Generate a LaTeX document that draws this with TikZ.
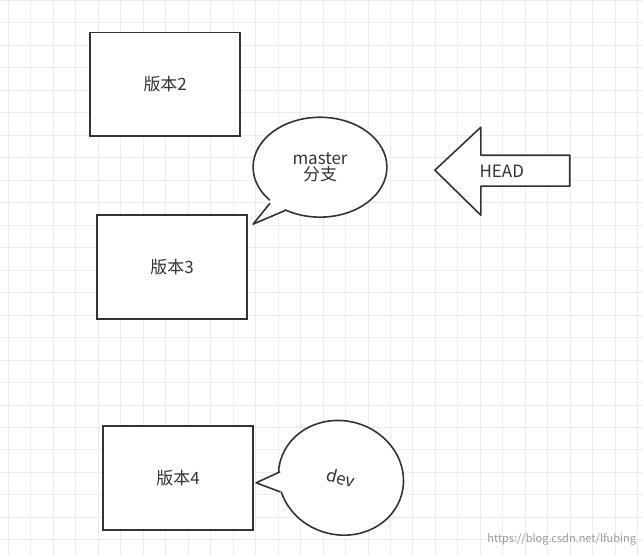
\documentclass[tikz,border=0pt]{standalone}
\usepackage{fontspec}
\setmainfont{Noto Sans CJK SC}
\usetikzlibrary{shapes.geometric}
\begin{document}
\begin{tikzpicture}[x=1pt,y=-1pt,
  box/.style={draw=black!80,line width=1.6pt,fill=white,minimum width=150pt,minimum height=104pt,font=\fontsize{17}{20}\selectfont,text=black!80},
  bub/.style={draw=black!80,line width=1.6pt,fill=white,ellipse,font=\fontsize{17}{20}\selectfont,text=black!80,align=center,inner sep=0pt}]
\fill[white] (0,0) rectangle (643,556);
\foreach \x in {8,30.5,...,643} \draw[black!7,line width=0.8pt] (\x,0) -- (\x,556);
\foreach \y in {0,22.5,...,556} \draw[black!7,line width=0.8pt] (0,\y) -- (643,\y);
\node[box] (v2) at (165,84) {版本2};
\node[box] (v3) at (172,267) {版本3};
\node[box] (v4) at (178,478) {版本4};
\node[bub,minimum width=134pt,minimum height=100pt] (m) at (320,167) {master\\[-4pt]分支};
\coordinate (mt) at (253,224);
\fill[white] (275,193) -- (mt) -- (294,205) -- cycle;
\draw[black!80,line width=1.6pt,line join=round] (270,203) -- (mt) -- (286,210);
\node[bub,minimum width=126pt,minimum height=114pt,rotate=-15] (d) at (341,478) {dev};
\coordinate (dt) at (256,483);
\fill[white] (288,468) -- (dt) -- (288,494) -- cycle;
\draw[black!80,line width=1.6pt,line join=round] (280,472) -- (dt) -- (280,492);
\draw[black!80,line width=1.6pt,fill=white,line join=round] (435,170) -- (481,127) -- (481,155) -- (570,155) -- (570,186) -- (481,186) -- (481,215) -- cycle;
\node[font=\fontsize{17}{20}\selectfont,text=black!80] (h) at (502,171) {HEAD};
\node[font=\fontsize{11}{13}\selectfont,text=black!40,anchor=east] (w) at (640,540) {https://blog.csdn.net/lfubing};
\end{tikzpicture}
\end{document}
